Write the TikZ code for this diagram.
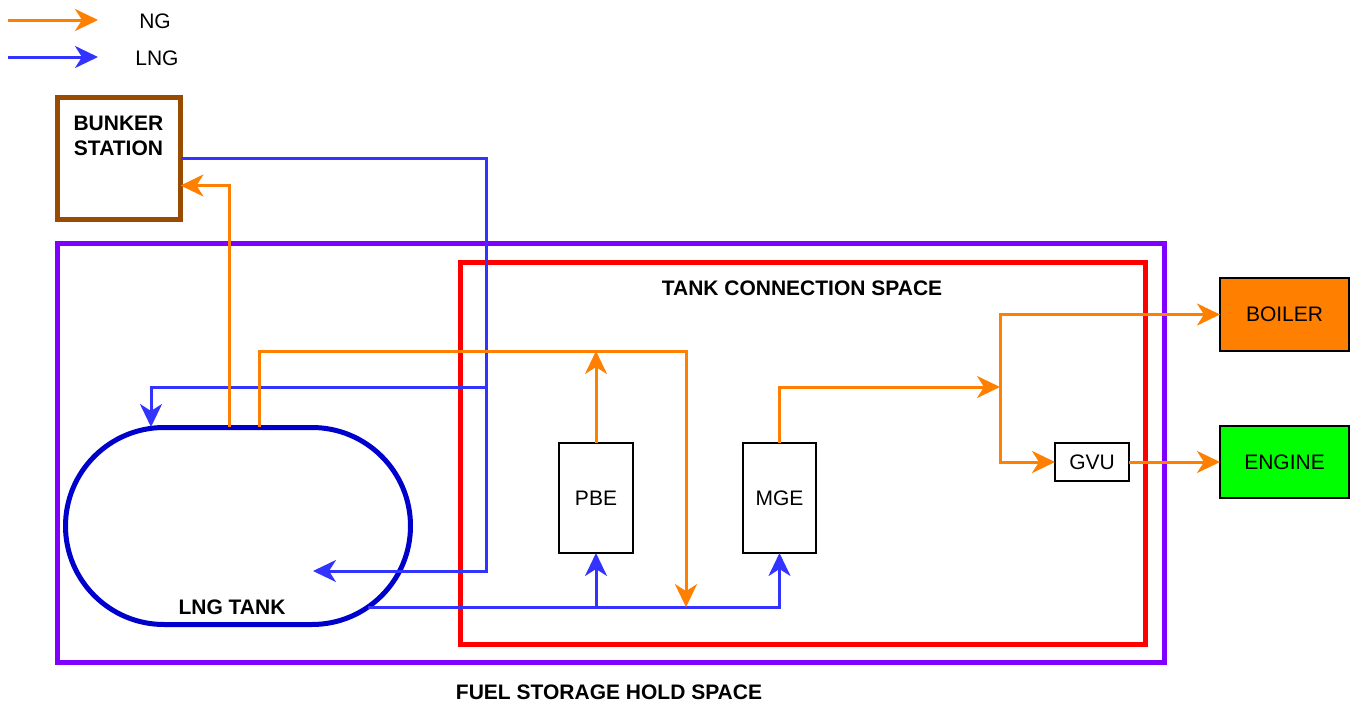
\documentclass[tikz,border=0pt]{standalone}
\usepackage{fontspec}
\setmainfont{Liberation Sans}
\usetikzlibrary{arrows.meta,shapes.misc,positioning}
\definecolor{ngorange}{HTML}{FF8000}
\definecolor{lngblue}{HTML}{3333FF}
\definecolor{tankblue}{HTML}{0000CC}
\definecolor{holdpurple}{HTML}{7F00FF}
\definecolor{tcsred}{HTML}{FF0000}
\definecolor{bunkerbrown}{HTML}{994C00}
\definecolor{enginegreen}{HTML}{00FF00}
\tikzset{
  flowtip/.style={-{Stealth[length=23pt,width=22pt,inset=7pt]}},
  ngline/.style={draw=ngorange, line width=3pt, flowtip},
  lngline/.style={draw=lngblue, line width=3pt, flowtip},
  lbl/.style={font=\fontsize{21}{25}\selectfont, inner sep=0pt},
  boldlbl/.style={lbl, font=\fontsize{21}{25}\selectfont\bfseries},
  unitbox/.style={draw, line width=1.5pt, lbl, inner sep=0pt, outer sep=0pt},
  spacebox/.style={draw, line width=5pt, inner sep=0pt, outer sep=0pt},
}
\begin{document}
\begin{tikzpicture}[x=1pt, y=-1pt]
\useasboundingbox (0,0) rectangle (1357,704);
% legend
\coordinate (ngkeya) at (8,20);
\coordinate (ngkeyb) at (98,20);
\coordinate (lngkeya) at (8,57);
\coordinate (lngkeyb) at (98,57);
\draw[ngline] (ngkeya) -- (ngkeyb);
\draw[lngline] (lngkeya) -- (lngkeyb);
\node[lbl] (nglbl) at (155,21) {NG};
\node[lbl] (lnglbl) at (157,58) {LNG};
% spaces
\node[spacebox, draw=holdpurple, minimum width=1107, minimum height=419] (hold) at (610.5,452.5) {};
\node[spacebox, draw=tcsred, minimum width=685, minimum height=382] (tcs) at (802.5,453) {};
\node[boldlbl] (holdlbl) at (609,692) {FUEL STORAGE HOLD SPACE};
\node[boldlbl] (tcslbl) at (802,288) {TANK CONNECTION SPACE};
% bunker station and tank
\node[spacebox, draw=bunkerbrown, minimum width=123, minimum height=122] (bunker) at (119,158.5) {};
\node[boldlbl, align=center] (bunkerlbl) at (118.5,136) {BUNKER\\STATION};
\node[draw=tankblue, line width=5pt, rounded rectangle, minimum width=345, minimum height=197, inner sep=0pt, outer sep=0pt] (tank) at (238,526) {};
\node[boldlbl] (tanklbl) at (232,607) {LNG TANK};
% units
\node[unitbox, minimum width=74, minimum height=110] (pbe) at (596,498) {PBE};
\node[unitbox, minimum width=73, minimum height=110] (mge) at (779.5,498) {MGE};
\node[unitbox, minimum width=74, minimum height=38] (gvu) at (1092,462) {GVU};
\node[unitbox, fill=ngorange, minimum width=129, minimum height=73] (boiler) at (1284.5,314.5) {BOILER};
\node[unitbox, fill=enginegreen, minimum width=129, minimum height=72] (engine) at (1284.5,462) {ENGINE};
% junction points
\coordinate (ngtopa) at (229,427);
\coordinate (ngtopb) at (259,427);
\coordinate (lngtop) at (151,427);
\coordinate (lngsplit) at (486,387);
\coordinate (lngdrop) at (486,571);
\coordinate (lngend) at (313,571);
\coordinate (ngturn) at (686,351);
\coordinate (ngsplit) at (1000,387);
\coordinate (tankout) at (tank.-32);
% LNG lines
\draw[lngline] (bunker.east) -| (lngdrop) -- (lngend);
\draw[lngline] (lngsplit) -| (lngtop);
\draw[lngline] (tankout) -| (mge.south);
\draw[lngline] (tankout -| pbe.south) -- (pbe.south);
% NG lines
\draw[ngline] (ngtopa) |- ([yshift=-27pt]bunker.east);
\draw[ngline] (ngtopb) |- (ngturn) -- (ngturn |- tankout);
\draw[ngline] (pbe.north) -- (pbe.north |- ngturn);
\draw[ngline] (mge.north) |- (ngsplit);
\draw[ngline] (ngsplit) |- (boiler.west);
\draw[ngline] (ngsplit) |- (gvu.west);
\draw[ngline] (gvu.east) -- (engine.west);
\end{tikzpicture}
\end{document}
